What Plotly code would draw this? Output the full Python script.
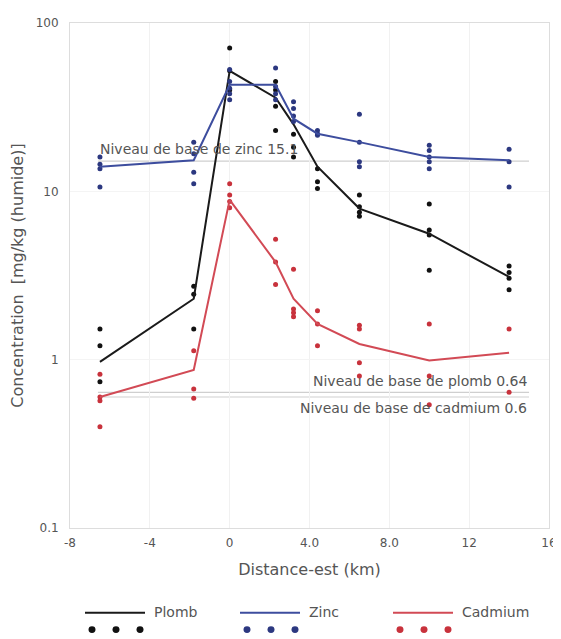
import plotly.graph_objects as go
import math

# ---------------- data ----------------
distance_km = [-6.5, -1.8, 0.0, 2.3, 3.2, 4.4, 6.5, 10.0, 14.0]

plomb_mean = [0.97, 2.3, 52, 36, 25, 14, 7.9, 5.6, 3.1]
zinc_mean = [14, 15.3, 43, 43, 27, 22, 19.6, 16, 15.3]
cadmium_mean = [0.6, 0.87, 8.9, 3.8, 2.3, 1.63, 1.24, 0.99, 1.1]

plomb_samples = [
    [1.52, 1.21, 0.74],
    [2.73, 2.45, 1.52],
    [71, 52, 40],
    [45, 40, 32, 23],
    [21.8, 18.3, 16],
    [13.6, 11.4, 10.4],
    [9.5, 8.1, 7.5, 7.1],
    [8.4, 5.9, 5.5, 3.4],
    [3.6, 3.3, 3.05, 2.6],
]
zinc_samples = [
    [16, 14.5, 13.6, 10.6],
    [19.6, 16.7, 13, 11.1],
    [53, 45, 41, 38, 35],
    [54, 42, 38, 35],
    [34, 31, 28, 26],
    [23, 22, 21.5],
    [28.7, 19.6, 15, 14],
    [18.8, 17.5, 16, 15, 13.6],
    [17.8, 15, 10.6],
]
cadmium_samples = [
    [0.82, 0.6, 0.57, 0.4],
    [1.13, 0.67, 0.59],
    [11.1, 9.5, 8.7, 8.0],
    [5.2, 3.8, 2.8],
    [3.45, 2.0, 1.9, 1.8],
    [1.95, 1.63, 1.21],
    [1.6, 1.52, 0.96, 0.8],
    [1.63, 0.8, 0.54],
    [1.52, 0.64],
]

series_names = ["Plomb", "Zinc", "Cadmium"]
baseline_labels = ["Niveau de base de zinc 15.1", "Niveau de base de plomb 0.64",
                   "Niveau de base de cadmium 0.6"]
baseline_values = [15.1, 0.64, 0.6]
baseline_span = [-6.6, 15.0]

x_tickvals = [-8, -4, 0, 4, 8, 12, 16]
x_ticktext = ["-8", "-4", "0", "4.0", "8.0", "12", "16"]
y_tickvals = [0.1, 1, 10, 100]
y_ticktext = ["0.1", "1", "10", "100"]

# ---------------- styles ----------------
line_colors = ["#1a1a1a", "#3d4d9e", "#d24a55"]
dot_colors = ["#111111", "#2c3880", "#c8323c"]
FONT = "DejaVu Sans"
W, H = 561, 639
OFF = 8  # page body margin
ML, MR, MT, MB = 62, 20, 8, 119

fig = go.Figure()

all_means = [plomb_mean, zinc_mean, cadmium_mean]
all_samples = [plomb_samples, zinc_samples, cadmium_samples]

for name, means, samples, lc, dc in zip(series_names, all_means, all_samples, line_colors, dot_colors):
    xs, ys = [], []
    for d, vals in zip(distance_km, samples):
        for v in vals:
            xs.append(d)
            ys.append(v)
    fig.add_trace(go.Scatter(x=xs, y=ys, mode="markers", name=name,
                             marker=dict(color=dc, size=5), showlegend=False,
                             hoverinfo="skip"))
    fig.add_trace(go.Scatter(x=distance_km, y=means, mode="lines", name=name,
                             line=dict(color=lc, width=2), showlegend=False))

# baselines
for val in baseline_values:
    fig.add_shape(type="line", xref="x", yref="y", x0=baseline_span[0], x1=baseline_span[1],
                  y0=val, y1=val, line=dict(color="#cfcfcf", width=1.2), layer="below")

LBL = dict(family=FONT, size=14, color="#555555")
fig.add_annotation(x=baseline_span[0], y=math.log10(baseline_values[0]), text=baseline_labels[0],
                   xanchor="left", yanchor="bottom", showarrow=False, yshift=2, font=LBL)
fig.add_annotation(x=baseline_span[1], y=math.log10(baseline_values[1]), text=baseline_labels[1],
                   xanchor="right", yanchor="bottom", showarrow=False, yshift=1, font=LBL)
fig.add_annotation(x=baseline_span[1], y=math.log10(baseline_values[2]), text=baseline_labels[2],
                   xanchor="right", yanchor="top", showarrow=False, yshift=-1, font=LBL)

# manual legend (page pixel positions converted to paper coords)
PW, PH = W - ML - MR, H - MT - MB
def px(xp):
    return (xp - OFF - ML) / PW
def py(yp):
    return (H - MB - (yp - OFF)) / PH

legend_x = [85, 240, 393]
for i, (name, lc, dc) in enumerate(zip(series_names, line_colors, dot_colors)):
    x0 = legend_x[i]
    fig.add_shape(type="line", xref="paper", yref="paper", x0=px(x0), x1=px(x0 + 60),
                  y0=py(614), y1=py(614), line=dict(color=lc, width=2))
    fig.add_annotation(xref="paper", yref="paper", x=px(x0 + 67), y=py(613), text=name,
                       xanchor="left", yanchor="middle", showarrow=False,
                       font=dict(family=FONT, size=14, color="#555555"))
    for k in range(3):
        cx = x0 + 7 + k * 24
        fig.add_shape(type="circle", xref="paper", yref="paper",
                      x0=px(cx - 3.5), x1=px(cx + 3.5), y0=py(631 + 3.5), y1=py(631 - 3.5),
                      fillcolor=dc, line=dict(color=dc, width=0))

fig.update_layout(
    width=W, height=H,
    margin=dict(l=ML, r=MR, t=MT, b=MB),
    paper_bgcolor="white", plot_bgcolor="white",
    font=dict(family=FONT, size=12, color="#555555"),
    showlegend=False,
)
fig.update_xaxes(range=[-8, 16], tickvals=x_tickvals, ticktext=x_ticktext,
                 showgrid=True, gridcolor="#f1f1f1", zeroline=False,
                 showline=True, linecolor="#dddddd", mirror=True,
                 ticks="outside", ticklen=4, tickcolor="rgba(0,0,0,0)",
                 tickfont=dict(size=12, color="#555555"),
                 title=dict(text="Distance-est (km)", font=dict(size=16, color="#555555"), standoff=14))
fig.update_yaxes(type="log", range=[-1, 2], tickvals=y_tickvals, ticktext=y_ticktext,
                 showgrid=True, gridcolor="#f4f4f4", zeroline=False,
                 showline=True, linecolor="#dddddd", mirror=True,
                 ticks="outside", ticklen=8, tickcolor="rgba(0,0,0,0)",
                 tickfont=dict(size=12, color="#555555"),
                 title=dict(text="Concentration  [mg/kg (humide)]", font=dict(size=16, color="#555555"), standoff=8))

fig.write_html("out.html")
